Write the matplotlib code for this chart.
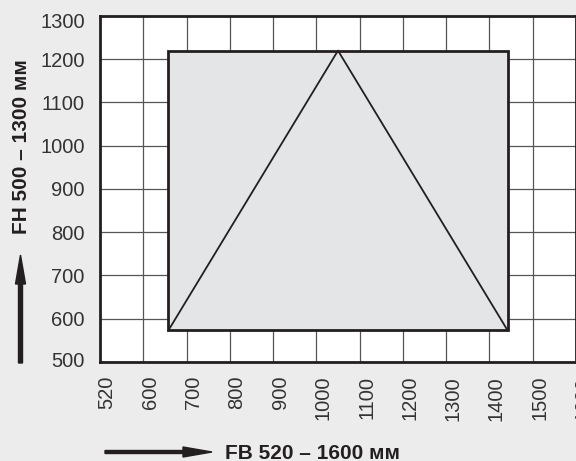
import numpy as np
import matplotlib
matplotlib.use("Agg")
import matplotlib.pyplot as plt
import matplotlib.transforms as mtransforms
from matplotlib.patches import Rectangle, FancyArrow

# axis ticks
x_ticks = [520, 600, 700, 800, 900, 1000, 1100, 1200, 1300, 1400, 1500, 1600]
y_ticks = [500, 600, 700, 800, 900, 1000, 1100, 1200, 1300]

# working area (rectangle) and triangle
rect_x = [658, 1442]
rect_y = [573, 1220]
tri_x = [658, 1050, 1442]
tri_y = [573, 1220, 573]

ink = "#231f20"
plt.rcParams["font.family"] = ["Liberation Sans", "DejaVu Sans"]


def fwd(x):
    x = np.asarray(x, dtype=float)
    return np.where(x < 600, (x - 520) / 80.0, 1 + (x - 600) / 100.0)


def inv(u):
    u = np.asarray(u, dtype=float)
    return np.where(u < 1, 520 + 80.0 * u, 600 + 100.0 * (u - 1))


W, H = 576, 461
fig = plt.figure(figsize=(W / 100, H / 100), dpi=100, facecolor="#ececec")
ax = fig.add_axes([100 / W, 99 / H, 476 / W, 346 / H])
ax.set_facecolor("white")
ax.set_xscale("function", functions=(fwd, inv))
ax.set_xlim(520, 1600)
ax.set_ylim(500, 1300)

ax.set_xticks(x_ticks)
ax.set_xticklabels([str(v) for v in x_ticks], rotation=90, fontsize=14.5, color="#333333")
ax.set_yticks(y_ticks)
ax.set_yticklabels([str(v) for v in y_ticks], fontsize=14.5, color="#333333")
ax.xaxis.set_minor_locator(plt.NullLocator())
ax.tick_params(axis="x", length=0, pad=10)
ax.tick_params(axis="y", length=0, pad=11)
ax.grid(True, color="#555555", linewidth=0.9)
ax.set_axisbelow(True)

# small nudges of the tick labels
shift_x = mtransforms.ScaledTranslation(5 / 72, 0, fig.dpi_scale_trans)
for lab in ax.get_xticklabels():
    lab.set_transform(lab.get_transform() + shift_x)
ylabs = ax.get_yticklabels()
ylabs[-1].set_transform(ylabs[-1].get_transform() + mtransforms.ScaledTranslation(0, -3 / 72, fig.dpi_scale_trans))
ylabs[0].set_transform(ylabs[0].get_transform() + mtransforms.ScaledTranslation(0, 2 / 72, fig.dpi_scale_trans))

for side in ["left", "bottom", "top", "right"]:
    ax.spines[side].set_linewidth(2.0)
    ax.spines[side].set_color(ink)

ax.add_patch(Rectangle((rect_x[0], rect_y[0]), rect_x[1] - rect_x[0], rect_y[1] - rect_y[0],
                       facecolor="#e4e5e7", edgecolor=ink, linewidth=2.0, zorder=3))
ax.plot(tri_x, tri_y, color=ink, linewidth=1.3, zorder=4)

# axis captions with arrows
fig.text(225 / W, 1 - 459 / H, "FB 520 \u2013 1600 мм", fontsize=15, fontweight="bold",
         color=ink, ha="left", va="baseline")
fig.add_artist(FancyArrow(105 / W, 1 - 452 / H, 107 / W, 0,
                          width=3 / H, head_width=10 / H, head_length=29 / W,
                          length_includes_head=True, color=ink, transform=fig.transFigure))
fig.text(22 / W, 1 - 146.5 / H, "FH 500 \u2013 1300 мм", fontsize=15, fontweight="bold",
         color=ink, ha="center", va="center", rotation=90)
fig.add_artist(FancyArrow(20.5 / W, 1 - 363 / H, 0, 108 / H,
                          width=4 / W, head_width=10 / W, head_length=29 / H,
                          length_includes_head=True, color=ink, transform=fig.transFigure))

fig.savefig("out.png", dpi=100, facecolor=fig.get_facecolor())
